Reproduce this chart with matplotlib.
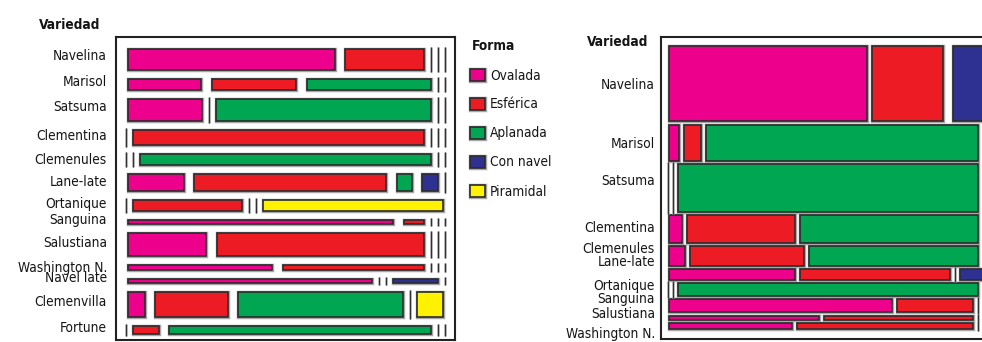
import matplotlib
matplotlib.use("Agg")
import numpy as np
import matplotlib.pyplot as plt
from matplotlib import font_manager
from matplotlib.font_manager import FontProperties
from matplotlib import patheffects as pe
from matplotlib.patches import Rectangle

# ---------------- data ----------------
shapes = ["Ovalada", "Esférica", "Aplanada", "Con navel", "Piramidal"]
shape_colors = ["#EC008C", "#ED1C24", "#00A651", "#2E3192", "#FFF200"]

left_varieties = ["Navelina", "Marisol", "Satsuma", "Clementina", "Clemenules",
                  "Lane-late", "Ortanique", "Sanguina", "Salustiana",
                  "Washington N.", "Navel late", "Clemenvilla", "Fortune"]
left_weights = [21, 12, 22, 16, 11, 17, 12, 4, 23, 5, 4, 26, 8]
left_ovalada   = [72.5, 26, 25.5,   0,   0, 20,  0, 93, 27.5, 50.5, 84.5,  6,  0]
left_esferica  = [27.5, 30,    0, 100,   0, 69, 38,  7, 72.5, 49.5,    0, 26,  9]
left_aplanada  = [0,    44, 74.5,   0, 100, 5.5, 0,  0,    0,    0,    0, 59, 91]
left_connavel  = [0,     0,    0,   0,   0, 5.5, 0,  0,    0,    0, 15.5,  0,  0]
left_piramidal = [0,     0,    0,   0,   0,  0, 62,  0,    0,    0,    0,  9,  0]

right_varieties = ["Navelina", "Marisol", "Satsuma", "Clementina", "Clemenules",
                   "Lane-late", "Ortanique", "Sanguina", "Salustiana", "Washington N."]
right_weights = [76, 36, 48, 28, 20, 11, 13, 13, 4, 6]
NA = np.nan
right_ovalada   = [66.2,  3.2,   0,  4.2,  5.4, 42.3,   0, 74.6, 50.2, 41]
right_esferica  = [23.9,  5.7,   0, 36.4, 38.1, 50.0,   0, 25.4, 49.8, 59]
right_aplanada  = [NA,   91.1, 100, 59.4, 56.5,    0, 100,    0,    0,  0]
right_connavel  = [9.9,     0,   0,    0,    0,  7.7,   0,    0,    0,  0]
right_piramidal = [0,       0,   0,    0,    0,    0,   0,    0,    0,  0]

# ---------------- fonts ----------------
def _is_condensed(f):
    st = f.stretch
    if isinstance(st, str):
        cond = "condensed" in st
    else:
        cond = st < 500
    return cond or "narrow" in f.name.lower() or "condensed" in f.name.lower()

ttf = font_manager.fontManager.ttflist
cands = [f for f in ttf if _is_condensed(f) and "mono" not in f.name.lower()
         and "serif" not in f.name.lower() and f.style == "normal"]
pref = ["Liberation Sans Narrow", "Arimo", "DejaVu Sans", "Roboto", "Noto Sans",
        "Open Sans"]
cands.sort(key=lambda f: next((i for i, p in enumerate(pref) if f.name.startswith(p)), 99))

reg_file = bold_file = None
if cands:
    fam = cands[0].name
    same = [f for f in cands if f.name == fam]
    regs = [f for f in same if (f.weight in ("normal", "regular", 400))]
    bolds = [f for f in same if (f.weight in ("bold", 700))]
    reg_file = (regs or same)[0].fname
    bold_file = (bolds[0].fname if bolds else reg_file)

if reg_file:
    FP = FontProperties(fname=reg_file)
    FPB = FontProperties(fname=bold_file)
else:
    FP = FontProperties(family=["Liberation Sans", "DejaVu Sans"])
    FPB = FontProperties(family=["Liberation Sans", "DejaVu Sans"], weight="bold")

W, H = 982, 342
fig = plt.figure(figsize=(W / 100, H / 100), dpi=100)
fig.patch.set_facecolor("white")

# fit font size so that "Navelina" spans ~54 px as in the reference
renderer = fig.canvas.get_renderer()
probe = fig.text(0, 0, "Navelina", fontproperties=FP.copy())
probe.set_fontsize(10)
wpx = probe.get_window_extent(renderer).width
probe.remove()
FS = min(10 * 54.0 / wpx, 12.6)

def fpr():
    p = FP.copy(); p.set_size(FS); return p

def fpb():
    p = FPB.copy(); p.set_size(FS); return p

EDGE = "#2b2b2b"
HALO = [pe.Stroke(linewidth=2.5, foreground="#a8a8a8"), pe.Normal()]
LHALO = [pe.Stroke(linewidth=1.8, foreground="#b8b8b8"), pe.Normal()]


def px_axes(x0, y0, x1, y1):
    ax = fig.add_axes([x0 / W, 1 - y1 / H, (x1 - x0) / W, (y1 - y0) / H])
    ax.set_xlim(x0, x1)
    ax.set_ylim(y1, y0)
    ax.set_xticks([])
    ax.set_yticks([])
    for s in ax.spines.values():
        s.set_linewidth(1.5)
        s.set_color("#222222")
    return ax


def draw_mosaic(ax, shares, weights, x_start, x_end, y_top, y_bot, vgap,
                gap_bar, gap_zero, edge_off):
    shares = np.asarray(shares, dtype=float)
    weights = np.asarray(weights, dtype=float)
    n = len(weights)
    heights = weights / weights.sum() * (y_bot - y_top - vgap * (n - 1))
    y = y_top
    for i in range(n):
        h = heights[i]
        vals = shares[i]
        empty = [(np.isnan(v) or v == 0) for v in vals]
        gaps = [gap_bar if (not empty[j] and not empty[j + 1]) else gap_zero
                for j in range(len(vals) - 1)]
        left = x_start - (edge_off if empty[0] else 0)
        right = x_end + (edge_off if empty[-1] else 0)
        avail = right - left - sum(gaps)
        total = np.nansum(vals)
        x = left
        for j, v in enumerate(vals):
            if np.isnan(v):
                pass
            elif v == 0:
                ax.plot([x, x], [y - 2, y + h + 2], color="#303030", lw=0.9,
                        solid_capstyle="butt", path_effects=LHALO, zorder=3)
            else:
                w = v / total * avail
                ax.add_patch(Rectangle((x, y), w, h, facecolor=shape_colors[j],
                                       edgecolor=EDGE, linewidth=1.2,
                                       path_effects=HALO, zorder=2))
                x += w
            if j < len(vals) - 1:
                x += gaps[j]
        y += h + vgap


# overlay axes for texts and legend (pixel coordinates)
ov = fig.add_axes([0, 0, 1, 1])
ov.set_xlim(0, W)
ov.set_ylim(H, 0)
ov.axis("off")

TXT = "#151515"

# ---------------- left panel ----------------
axL = px_axes(116, 37, 455, 340)
left_shares = np.column_stack([left_ovalada, left_esferica, left_aplanada,
                               left_connavel, left_piramidal])
draw_mosaic(axL, left_shares, left_weights, 128, 442.5, 49, 333.7, 9,
            10.5, 7, 2.3)

left_label_y = [60, 86, 111, 140, 164, 186, 208, 224, 247, 272, 282, 306.5, 332]
for name, yb in zip(left_varieties, left_label_y):
    ov.text(107, yb, name, ha="right", va="baseline", fontproperties=fpr(), color=TXT)
ov.text(39, 29.3, "Variedad", ha="left", va="baseline", fontproperties=fpb(),
        color=TXT)

# legend
ov.text(472, 50, "Forma", ha="left", va="baseline", fontproperties=fpb(), color=TXT)
for k, (lab, col) in enumerate(zip(shapes, shape_colors)):
    cy = 75 + k * 29
    ov.add_patch(Rectangle((470, cy - 6), 15, 12, facecolor=col, edgecolor=EDGE,
                           linewidth=1.2, path_effects=HALO))
    ov.text(490, cy + 4.5, lab, ha="left", va="baseline", fontproperties=fpr(),
            color=TXT)

# ---------------- right panel ----------------
axR = px_axes(661, 37, 998, 339)
right_shares = np.column_stack([right_ovalada, right_esferica, right_aplanada,
                                right_connavel, right_piramidal])
draw_mosaic(axR, right_shares, right_weights, 669.3, 986, 45.7, 328.7, 3.2,
            5, 5, 1.5)

right_label_y = [89.3, 147.7, 185, 231.7, 253.3, 265.7, 290, 303.3, 318.3, 338.3]
for name, yb in zip(right_varieties, right_label_y):
    ov.text(655, yb, name, ha="right", va="baseline", fontproperties=fpr(), color=TXT)
ov.text(587, 45.5, "Variedad", ha="left", va="baseline", fontproperties=fpb(),
        color=TXT)

fig.savefig("out.png", dpi=100, facecolor="white")
